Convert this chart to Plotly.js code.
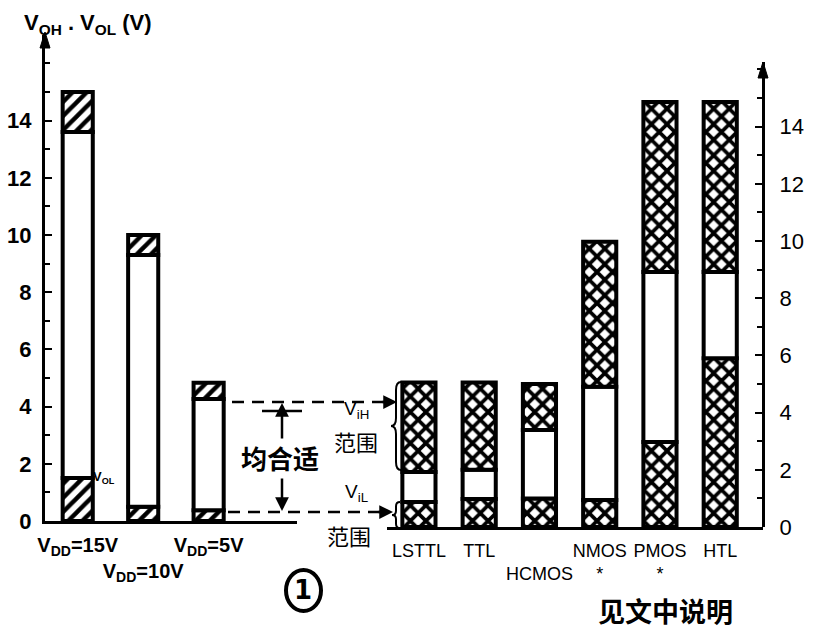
<!DOCTYPE html>
<html><head><meta charset="utf-8">
<script src="https://cdn.plot.ly/plotly-3.0.1.min.js"></script>
<style>html,body{margin:0;padding:0;background:#fff}#chart{width:813px;height:639px}</style>
</head><body><div id="chart"></div>
<script>
// ---- data ----
const cmosCats = ['VDD=15V', 'VDD=10V', 'VDD=5V'];
const cmosTickText = ['V<sub>DD</sub>=15V', '<br>V<sub>DD</sub>=10V', 'V<sub>DD</sub>=5V'];
const cmosVOL = [1.5, 0.5, 0.38];
const cmosVOHmin = [13.6, 9.3, 4.27];
const cmosTop = [15.0, 10.0, 4.83];

const famCats = ['LSTTL', 'TTL', 'HCMOS', 'NMOS', 'PMOS', 'HTL'];
const famTickText = ['LSTTL', 'TTL', '<br>HCMOS', 'NMOS<br>*', 'PMOS<br>*', 'HTL'];
const famVIL = [0.87, 0.98, 1.0, 0.94, 2.97, 5.9];
const famVIH = [1.92, 2.0, 3.39, 4.9, 8.92, 8.92];
const famTop = [5.05, 5.05, 5.0, 9.97, 14.86, 14.86];

const yTicks = [0, 2, 4, 6, 8, 10, 12, 14];

// ---- helpers (pixel -> paper) ----
const L = 45, T = 35, W = 718, H = 492;
const PX = x => (x - L) / W;
const PY = y => (T + H - y) / H;

function seg(xa, ya, cats, lo, hi, shape, width, size, sol) {
  const m = {color: 'white', line: {color: 'black', width: 4}};
  if (shape) m.pattern = {shape: shape, fgcolor: '#000000', fgopacity: 1, bgcolor: 'white', size: size, solidity: sol, fillmode: 'overlay'};
  return {type: 'bar', x: cats, y: hi.map((h, i) => h - lo[i]), base: lo, width: width,
          xaxis: xa, yaxis: ya, marker: m, showlegend: false, hoverinfo: 'skip'};
}
const zL = cmosCats.map(() => 0), zR = famCats.map(() => 0);

const traces = [
  seg('x', 'y', cmosCats, zL, cmosVOL, '/', 0.46, 10, 0.45),
  seg('x', 'y', cmosCats, cmosVOL, cmosVOHmin, '', 0.46),
  seg('x', 'y', cmosCats, cmosVOHmin, cmosTop, '/', 0.46, 10, 0.45),
  seg('x2', 'y2', famCats, zR, famVIL, 'x', 0.55, 11, 0.55),
  seg('x2', 'y2', famCats, famVIL, famVIH, '', 0.55),
  seg('x2', 'y2', famCats, famVIH, famTop, 'x', 0.55, 11, 0.55)
];

function brace(x, y0, y1, w) {
  const ym = (y0 + y1) / 2, xs = x - w / 2, xm = x - w, r = Math.min(8, (y1 - y0) / 6);
  const p = (a, b) => PX(a) + ',' + PY(b);
  return 'M' + p(x, y0) + ' Q' + p(xs, y0) + ' ' + p(xs, y0 + r) +
         ' L' + p(xs, ym - r) + ' Q' + p(xs, ym) + ' ' + p(xm, ym) +
         ' Q' + p(xs, ym) + ' ' + p(xs, ym + r) +
         ' L' + p(xs, y1 - r) + ' Q' + p(xs, y1) + ' ' + p(x, y1);
}
function tri(x, y) {
  return 'M' + PX(x - 5) + ',' + PY(y + 16) + ' L' + PX(x) + ',' + PY(y) + ' L' + PX(x + 5) + ',' + PY(y + 16) + ' Z';
}

const shapes = [
  {type: 'path', xref: 'paper', yref: 'paper', path: tri(45, 32), fillcolor: 'black', line: {color: 'black', width: 1}},
  {type: 'path', xref: 'paper', yref: 'paper', path: tri(763, 62), fillcolor: 'black', line: {color: 'black', width: 1}},
  {type: 'line', xref: 'paper', yref: 'paper', x0: PX(232), x1: PX(384), y0: PY(402), y1: PY(402), line: {color: 'black', width: 2.5, dash: '12px,8px'}},
  {type: 'line', xref: 'paper', yref: 'paper', x0: PX(228), x1: PX(380), y0: PY(512), y1: PY(512), line: {color: 'black', width: 2.5, dash: '12px,8px'}},
  {type: 'line', xref: 'paper', yref: 'paper', x0: PX(262), x1: PX(302), y0: PY(411), y1: PY(411), line: {color: 'black', width: 2.5}},
  {type: 'path', xref: 'paper', yref: 'paper', path: brace(401, 382, 470, 10), line: {color: 'black', width: 2}},
  {type: 'path', xref: 'paper', yref: 'paper', path: brace(400, 502, 528, 8), line: {color: 'black', width: 2}},
  {type: 'circle', xref: 'paper', yref: 'paper', x0: PX(286), x1: PX(321), y0: PY(611), y1: PY(570), line: {color: 'black', width: 4}}
];

const cjk = '"Noto Sans CJK SC", sans-serif';
const ann = (x, y, text, size, opts) => Object.assign({xref: 'paper', yref: 'paper', x: PX(x), y: PY(y), text: text, showarrow: false,
  font: {family: 'Liberation Sans, Arial, sans-serif', size: size, color: 'black', weight: 'bold'}, xanchor: 'center', yanchor: 'middle'}, opts || {});
const arrow = (x, y, ax, ay) => ({xref: 'paper', yref: 'paper', x: PX(x), y: PY(y), ax: ax, ay: ay, text: '', showarrow: true,
  arrowhead: 2, arrowsize: 1.1, arrowwidth: 2.5, arrowcolor: 'black'});

const annotations = [
  ann(22, 24, 'V<sub>OH</sub> . V<sub>OL</sub> (V)', 22, {xanchor: 'left'}),
  ann(104, 477, 'V<sub>OL</sub>', 13),
  ann(280, 457, '均合适', 26, {font: {family: cjk, size: 26, color: 'black', weight: 'bold'}}),
  ann(356, 410, 'V<sub>iH</sub>', 19, {font: {family: 'Liberation Sans, sans-serif', size: 19, color: 'black'}}),
  ann(356, 441, '范围', 22, {font: {family: cjk, size: 22, color: 'black'}}),
  ann(356, 493, 'V<sub>iL</sub>', 19, {font: {family: 'Liberation Sans, sans-serif', size: 19, color: 'black'}}),
  ann(349, 535, '范围', 22, {font: {family: cjk, size: 22, color: 'black'}}),
  ann(665, 610, '见文中说明', 27, {font: {family: cjk, size: 27, color: 'black', weight: 'bold'}}),
  ann(303, 590, '1', 26, {font: {family: 'DejaVu Sans, sans-serif', size: 26, color: 'black', weight: 'bold'}}),
  arrow(397, 402, -16, 0),
  arrow(393, 512, -16, 0),
  arrow(282, 403, 0, 37),
  arrow(282, 511, 0, -34)
];

const layout = {
  width: 813, height: 639,
  margin: {l: L, r: 813 - L - W, t: T, b: 639 - T - H},
  paper_bgcolor: 'white', plot_bgcolor: 'white',
  barmode: 'overlay', showlegend: false,
  font: {family: 'Liberation Sans, Arial, sans-serif', color: 'black'},
  xaxis: {type: 'category', domain: [0, PX(297)], anchor: 'y', range: [-0.5, 3.35], tickangle: 0, automargin: false,
          tickvals: cmosCats, ticktext: cmosTickText, ticks: '', showline: true, linewidth: 3, linecolor: 'black',
          showgrid: false, zeroline: false, ticklabelstandoff: 4,
          tickfont: {family: 'Liberation Sans, Arial, sans-serif', size: 20, weight: 'bold', color: 'black'}},
  yaxis: {domain: [PY(521), 1], anchor: 'x', range: [0, (521 - T) / 28.6], tickvals: yTicks, automargin: false,
          ticks: 'inside', ticklen: 7, tickwidth: 2, tickcolor: 'black',
          minor: {dtick: 1, ticks: 'inside', ticklen: 5, tickwidth: 2, tickcolor: 'black', showgrid: false},
          showline: true, linewidth: 3, linecolor: 'black', showgrid: false, zeroline: false, ticklabelstandoff: 6,
          tickfont: {family: 'Liberation Sans, Arial, sans-serif', size: 22, weight: 'bold', color: 'black'}},
  xaxis2: {type: 'category', domain: [PX(387), 1], anchor: 'y2', range: [-0.53, 5.71], tickangle: 0, automargin: false,
           tickvals: famCats, ticktext: famTickText, ticks: '', showline: true, linewidth: 3, linecolor: 'black',
           showgrid: false, zeroline: false, ticklabelstandoff: 5,
           tickfont: {family: 'Liberation Sans, Arial, sans-serif', size: 18, color: 'black'}},
  yaxis2: {domain: [0, PY(62)], anchor: 'free', position: 1, side: 'right', range: [0, (527 - 62) / 28.6], automargin: false,
           tickvals: yTicks, ticks: 'inside', ticklen: 7, tickwidth: 2, tickcolor: 'black',
           minor: {dtick: 1, ticks: 'inside', ticklen: 5, tickwidth: 2, tickcolor: 'black', showgrid: false},
           showline: true, linewidth: 3, linecolor: 'black', showgrid: false, zeroline: false, ticklabelstandoff: 10,
           tickfont: {family: 'Liberation Sans, Arial, sans-serif', size: 22, color: 'black'}},
  shapes: shapes,
  annotations: annotations
};

Plotly.newPlot('chart', traces, layout, {staticPlot: true, displayModeBar: false});
</script></body></html>
